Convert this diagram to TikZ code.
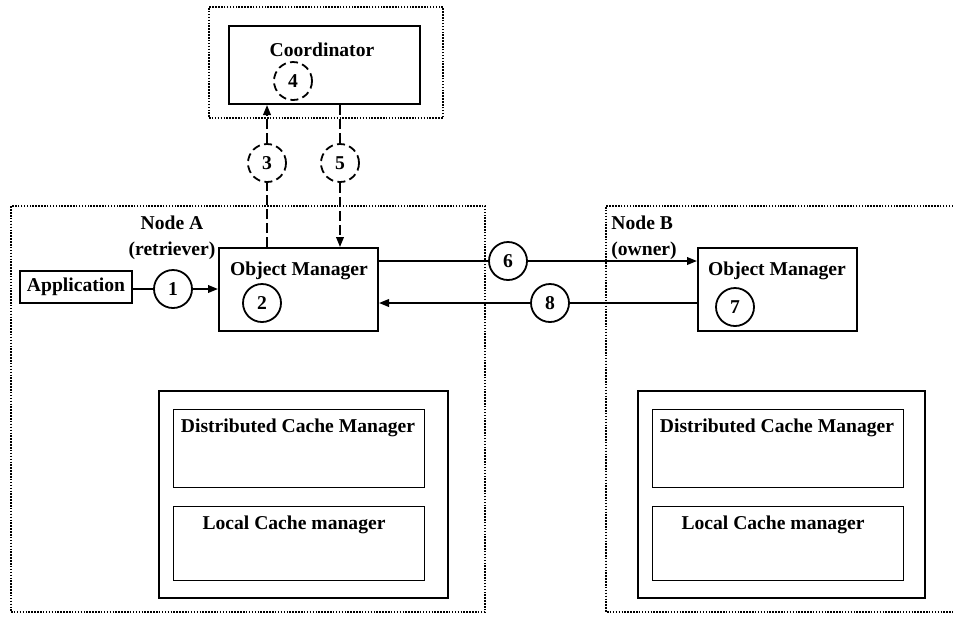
\documentclass[tikz,border=0pt]{standalone}
\usepackage{fontspec}
\setmainfont{Liberation Serif}
\usetikzlibrary{arrows.meta,positioning}
\tikzset{
  box/.style={draw, line width=1pt, inner sep=0pt},
  cachebox/.style={draw, line width=0.5pt, inner sep=0pt},
  hostbox/.style={draw, line width=0.75pt, dash pattern=on 0.75pt off 0.7pt, inner sep=0pt},
  lbl/.style={font=\fontsize{9.8pt}{13pt}\selectfont\bfseries, inner sep=0pt},
  numc/.style={draw, circle, line width=0.9pt, minimum size=19pt, inner sep=0pt, font=\fontsize{9.8pt}{11pt}\selectfont\bfseries},
  dnumc/.style={numc, dash pattern=on 4pt off 2.2pt},
  link/.style={line width=0.9pt},
  arrow/.style={-{Triangle[length=5pt,width=3.8pt]}, line width=0.9pt},
  dlink/.style={line width=0.9pt, dash pattern=on 5pt off 2pt}
}

\begin{document}
\begin{tikzpicture}[x=0.5pt, y=-0.5pt]
  \useasboundingbox (0,0) rectangle (953,618);

  % coordinator
  \node[hostbox, minimum width=117pt, minimum height=55.5pt] (coordwrap) at (326,62.5) {};
  \node[box, minimum width=95.5pt, minimum height=39pt] (coord) at (324.5,65) {};
  \node[lbl] (coordtxt) at (322,50) {Coordinator};
  \node[dnumc] (c4) at (293,81) {4};

  % node A
  \node[hostbox, minimum width=237pt, minimum height=203pt] (hostA) at (248,409) {};
  \node[lbl, align=center] (hostAtxt) at (172,238) {Node A\\(retriever)};
  \node[box, minimum width=56pt, minimum height=16pt, font=\fontsize{9.8pt}{11pt}\selectfont\bfseries] (app) at (76,287) {Application};
  \node[box, minimum width=79.5pt, minimum height=41.5pt] (omA) at (298.5,289.5) {};
  \node[lbl] (omAtxt) at (299,271) {Object Manager};
  \node[numc] (c2) at (262,303) {2};
  \node[box, minimum width=144.5pt, minimum height=103.5pt] (cacheA) at (303.5,494.5) {};
  \node[cachebox, minimum width=125.5pt, minimum height=39pt] (dcmA) at (298.5,448) {};
  \node[lbl] (dcmAtxt) at (298,428) {Distributed Cache Manager};
  \node[cachebox, minimum width=125.5pt, minimum height=37pt] (lcmA) at (298.5,543) {};
  \node[lbl] (lcmAtxt) at (294,525) {Local Cache manager};

  % node B, cut off at the right margin
  \draw[hostbox] (953,206) -- (606,206) -- (606,612) -- (953,612);
  \node[lbl, align=left, anchor=west] (hostBtxt) at (611,238) {Node B\\(owner)};
  \node[box, minimum width=79.5pt, minimum height=41.5pt] (omB) at (777.5,289.5) {};
  \node[lbl] (omBtxt) at (777,271) {Object Manager};
  \node[numc] (c7) at (735,307) {7};
  \node[box, minimum width=143.5pt, minimum height=103.5pt] (cacheB) at (781.5,494.5) {};
  \node[cachebox, minimum width=125.5pt, minimum height=39pt] (dcmB) at (777.5,448) {};
  \node[lbl] (dcmBtxt) at (777,428) {Distributed Cache Manager};
  \node[cachebox, minimum width=125.5pt, minimum height=37pt] (lcmB) at (777.5,543) {};
  \node[lbl] (lcmBtxt) at (773,525) {Local Cache manager};

  % message steps
  \node[numc] (c1) at (173,289) {1};
  \node[dnumc] (c3) at (267,163) {3};
  \node[dnumc] (c5) at (340,163) {5};
  \node[numc] (c6) at (508,261) {6};
  \node[numc] (c8) at (550,303) {8};

  \draw[link] (app.east |- c1) -- (c1);
  \draw[arrow] (c1) -- (c1 -| omA.west);
  \draw[dlink] (omA.north -| c3) -- (c3);
  \draw[arrow, dlink] (c3) -- (c3 |- coord.south);
  \draw[dlink] (coord.south -| c5) -- (c5);
  \draw[arrow, dlink] (c5) -- (c5 |- omA.north);
  \draw[link] (omA.east |- c6) -- (c6);
  \draw[arrow] (c6) -- (c6 -| omB.west);
  \draw[link] (omB.west |- c8) -- (c8);
  \draw[arrow] (c8) -- (c8 -| omA.east);
\end{tikzpicture}
\end{document}
